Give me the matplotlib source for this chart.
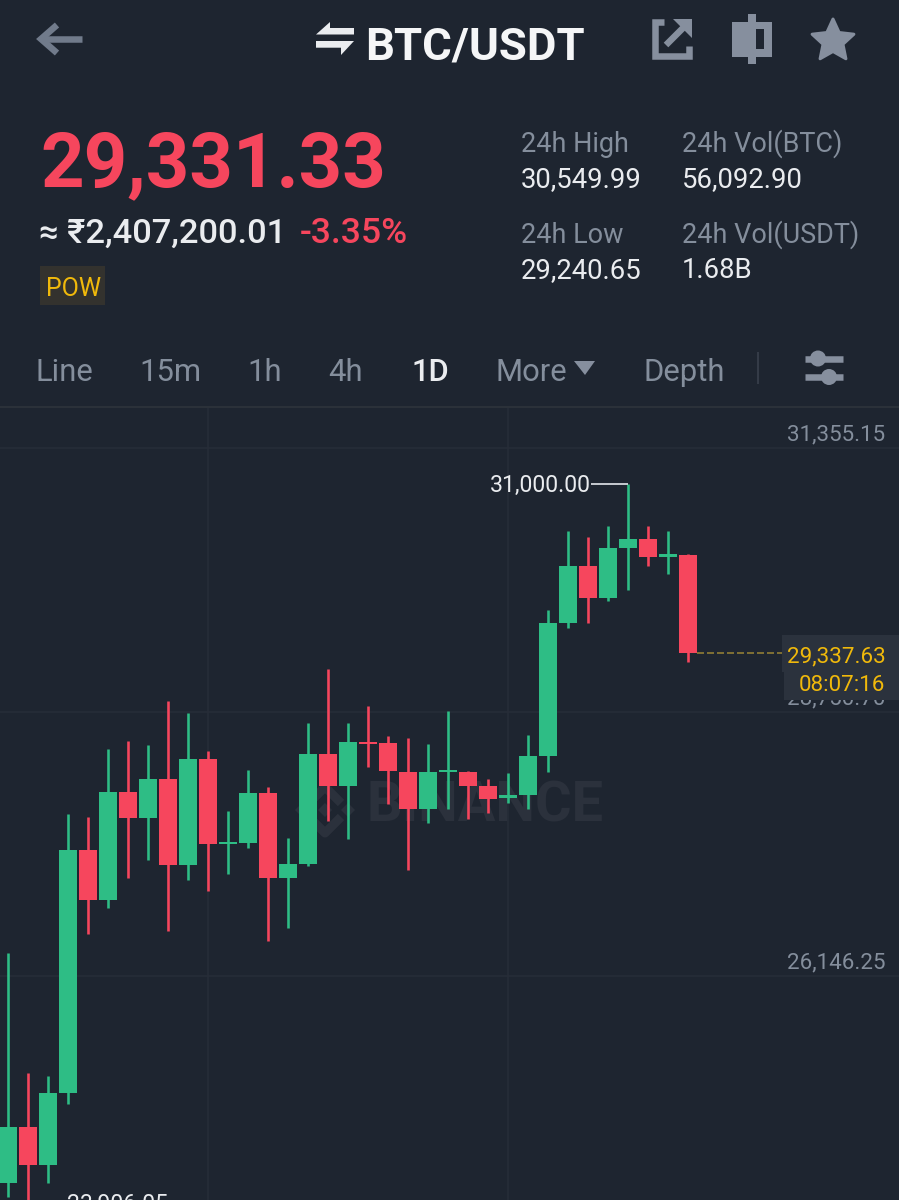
import matplotlib
matplotlib.use('Agg')
import matplotlib.pyplot as plt
import numpy as np
from matplotlib.patches import Circle, Polygon, Rectangle

# candle data, oldest first
opens = [24100, 24661, 24277, 24993, 27385, 26899, 27962, 27708, 28092, 27242, 28287, 27448,
         27458, 27955, 27117, 27252, 28336, 28021, 28455, 28442, 28162, 27791, 28156, 28159,
         28024, 27902, 27932, 28317, 29629, 30191, 29879, 30366, 30458, 30283, 30297]
highs = [26376, 25190, 25160, 27745, 27715, 28381, 28465, 28428, 28859, 28741, 28366, 27779,
         28183, 28014, 27511, 28642, 29175, 28645, 28810, 28517, 28491, 28432, 28764, 28172,
         28093, 28149, 28524, 29757, 30540, 30477, 30586, 31000, 30586, 30540, 30307]
lows = [23966, 23906.05, 24107, 24884, 26563, 26817, 27113, 27294, 26590, 27096, 26988, 27148,
        27409, 26496, 26624, 27231, 27675, 27501, 28208, 27843, 27192, 27653, 27794, 27695,
        27757, 27853, 27794, 28159, 29580, 29629, 29846, 29955, 30194, 30112, 29240.65]
closes = [24661, 24277, 24993, 27385, 26899, 27962, 27708, 28092, 27242, 28287, 27448, 27470,
          27955, 27117, 27251, 28336, 28021, 28455, 28432, 28166, 27791, 28156, 28178, 28024,
          27896, 27932, 28317, 29629, 30191, 29879, 30366, 30458, 30283, 30310, 29337.63]

grid_prices = [31355.15, 28750.70, 26146.25]
grid_labels = ['31,355.15', '28,750.70', '26,146.25']
grid_candles = [10, 25]

high_label = '31,000.00'
low_label = '23,906.05'
last_price = 29337.63
last_label = '29,337.63'
countdown = '08:07:16'

tabs = ['Line', '15m', '1h', '4h', '1D', 'More', 'Depth']
tab_x = [35, 139, 247, 328, 411, 495, 643]

stat_names = ['24h High', '24h Vol(BTC)', '24h Low', '24h Vol(USDT)']
stat_values = ['30,549.99', '56,092.90', '29,240.65', '1.68B']
stat_x = [521, 682, 521, 682]
stat_name_y = [152, 152, 243, 243]
stat_value_y = [187, 187, 278, 278]

BG = '#1e2530'
GREEN = '#2ebd85'
RED = '#f6465d'
GREY = '#848e9c'
ICON = '#868f9e'
WHITE = '#eaecef'
YELLOW = '#f0b90b'
GRID = '#272d38'
MARK = '#2b313c'
FONT = ['Roboto', 'Noto Sans', 'DejaVu Sans']

plt.rcParams['font.family'] = FONT


def pt(px):
    # sizes below are measured in screenshot pixels
    return px * 0.72


fig = plt.figure(figsize=(8.99, 12), dpi=100, facecolor=BG)

# full page overlay in pixel coordinates for the app chrome
ui = fig.add_axes([0, 0, 1, 1], zorder=3)
ui.set_xlim(0, 899)
ui.set_ylim(1200, 0)
ui.axis('off')

# chart area runs from the tab divider to the bottom of the screen
chart = fig.add_axes([0, 0, 1, 792 / 1200], zorder=1)
chart.set_facecolor(BG)
chart.set_xlim(-0.40, 44.55)
chart.set_ylim(23936.65, 31749.7)
for s in chart.spines.values():
    s.set_visible(False)
chart.set_xticks([])
chart.set_yticks([])

chart.hlines(grid_prices, -1, 46, color=GRID, lw=pt(1.5), zorder=1)
chart.vlines(grid_candles, 20000, 32000, color=GRID, lw=pt(1.5), zorder=1)

# watermark sits under the candles
chart.text(366, 822, 'BINANCE', transform=ui.transData, color=MARK, fontsize=pt(56),
           fontweight='bold', ha='left', va='baseline', zorder=2)
for cx, cy in [(325, 810), (302, 810), (348, 810)]:
    chart.add_patch(Polygon([(cx - 7, cy), (cx, cy - 7), (cx + 7, cy), (cx, cy + 7)],
                            transform=ui.transData, color=MARK, lw=0, zorder=2))
chart.plot([309, 325, 341], [803, 787, 803], transform=ui.transData, color=MARK,
           lw=pt(9), solid_capstyle='butt', zorder=2)
chart.plot([309, 325, 341], [817, 833, 817], transform=ui.transData, color=MARK,
           lw=pt(9), solid_capstyle='butt', zorder=2)

# candles
x = np.arange(len(opens))
colors = [GREEN if c >= o else RED for o, c in zip(opens, closes)]
chart.vlines(x, lows, highs, color=colors, lw=pt(2.6), zorder=3)
bottoms = np.minimum(opens, closes)
heights = np.abs(np.array(closes) - np.array(opens))
chart.bar(x, heights, bottom=bottoms, width=0.875, color=colors, linewidth=0, zorder=4)

# price scale labels
for price, label in zip(grid_prices, grid_labels):
    chart.annotate(label, xy=(1, price), xycoords=('axes fraction', 'data'),
                   xytext=(pt(-14), pt(8)), textcoords='offset points', ha='right', va='baseline',
                   color=GREY, fontsize=pt(22.4), zorder=5)

# extreme markers
top = int(np.argmax(highs))
chart.hlines(max(highs), top - 1.85, top, color='#d5d9de', lw=pt(1.8), zorder=5)
chart.annotate(high_label, xy=(top - 1.85, max(highs)), xytext=(pt(0), pt(-8)),
               textcoords='offset points', ha='right', va='baseline', color=WHITE,
               fontsize=pt(23), zorder=5)
bottom = int(np.argmin(lows))
chart.hlines(min(lows), bottom, bottom + 1.85, color='#d5d9de', lw=pt(1.8), zorder=5)
chart.annotate(low_label, xy=(bottom + 1.95, min(lows)), xytext=(0, pt(-8)),
               textcoords='offset points', ha='left', va='baseline', color=WHITE,
               fontsize=pt(23), zorder=5, annotation_clip=False)

# last price line and tag
last = len(opens) - 1
chart.hlines(last_price, last + 0.44, 38.7, color='#7d6e33', lw=pt(2),
             linestyles=(0, (3.5, 1.5)), zorder=5)
ui.add_patch(Rectangle((782, 635), 117, 37, color='#2b323d', lw=0, zorder=2))
ui.add_patch(Rectangle((784, 670), 115, 30, color='#2b323d', lw=0, zorder=2))
ui.text(885.5, 662, last_label, color=YELLOW, fontsize=pt(22.4), ha='right', va='baseline')
ui.text(885.5, 691, countdown, color=YELLOW, fontsize=pt(22.4), ha='right', va='baseline')

# header
ui.plot([82, 42], [39, 39], color='#717b8b', lw=pt(6.5), solid_capstyle='butt')
ui.plot([57, 41, 57], [25, 39, 53], color='#717b8b', lw=pt(6.5), solid_capstyle='butt',
        solid_joinstyle='miter')

ui.add_patch(Polygon([(316, 34.5), (330, 22), (330, 28), (354, 28), (354, 34.5)], color=WHITE, lw=0))
ui.add_patch(Polygon([(316, 41), (354, 41), (341, 55), (341, 47.7), (316, 47.7)], color=WHITE, lw=0))
ui.text(365, 59, 'BTC/USDT', color='#f5f6f7', fontsize=pt(45.5), fontweight='bold', ha='left', va='baseline')

# share icon
ui.plot([664, 655, 655, 689, 689], [22, 22, 56, 56, 46], color=ICON, lw=pt(6.5),
        solid_capstyle='butt', solid_joinstyle='miter')
ui.plot([666, 684], [45, 27], color=ICON, lw=pt(6.5), solid_capstyle='butt')
ui.add_patch(Polygon([(673, 19), (692, 19), (692, 38)], color=ICON, lw=0))

# candle icon
ui.add_patch(Rectangle((748, 14), 7.5, 50, color=ICON, lw=0))
ui.add_patch(Rectangle((732, 22), 40, 35, color=ICON, lw=0))
ui.add_patch(Rectangle((755.7, 29), 8.6, 20.3, color=BG, lw=0))

# star icon
ang = np.pi / 2 + np.arange(10) * np.pi / 5
rad = np.where(np.arange(10) % 2 == 0, 22, 10.5)
ui.add_patch(Polygon(np.column_stack([833 + rad * np.cos(ang), 41 - rad * np.sin(ang)]),
                     facecolor=ICON, edgecolor=ICON, lw=pt(3), joinstyle='round'))

# price block
ui.text(40, 186, '29,331.33', color=RED, fontsize=pt(76), fontweight='bold', ha='left', va='baseline')
ui.text(39, 243, '≈ ₹2,407,200.01', color=WHITE, fontsize=pt(34.5), fontweight='medium', ha='left', va='baseline')
ui.text(300, 243, '-3.35%', color=RED, fontsize=pt(35.5), fontweight='medium', ha='left', va='baseline')
ui.add_patch(Rectangle((40, 266), 65, 39, facecolor='#33322e', lw=0))
ui.text(46, 296, 'POW', color=YELLOW, fontsize=pt(25), ha='left', va='baseline')

for name, value, sx, ny, vy in zip(stat_names, stat_values, stat_x, stat_name_y, stat_value_y):
    ui.text(sx, ny, name, color=GREY, fontsize=pt(27), ha='left', va='baseline')
    ui.text(sx, vy, value, color=WHITE, fontsize=pt(27.5), ha='left', va='baseline')

# interval tabs
for tab, tx in zip(tabs, tab_x):
    active = tab == '1D'
    ui.text(tx, 381, tab, color=WHITE if active else GREY, fontsize=pt(31),
            fontweight='medium' if active else 'normal', ha='left', va='baseline')
ui.add_patch(Polygon([(574, 361), (595, 361), (585, 375)], color=ICON, lw=0))
ui.plot([758, 758], [353, 383], color='#343b47', lw=pt(2))

# settings sliders
ui.plot([805, 843], [358.5, 358.5], color=ICON, lw=pt(6.5), solid_capstyle='butt')
ui.plot([805, 843], [377, 377], color=ICON, lw=pt(6.5), solid_capstyle='butt')
ui.add_patch(Circle((818, 358.5), 8, color=ICON, lw=0))
ui.add_patch(Circle((829, 377), 8, color=ICON, lw=0))

# divider under the tabs
ui.plot([0, 899], [406.5, 406.5], color='#2b3139', lw=pt(2))

fig.savefig('out.png', dpi=100, facecolor=BG)
